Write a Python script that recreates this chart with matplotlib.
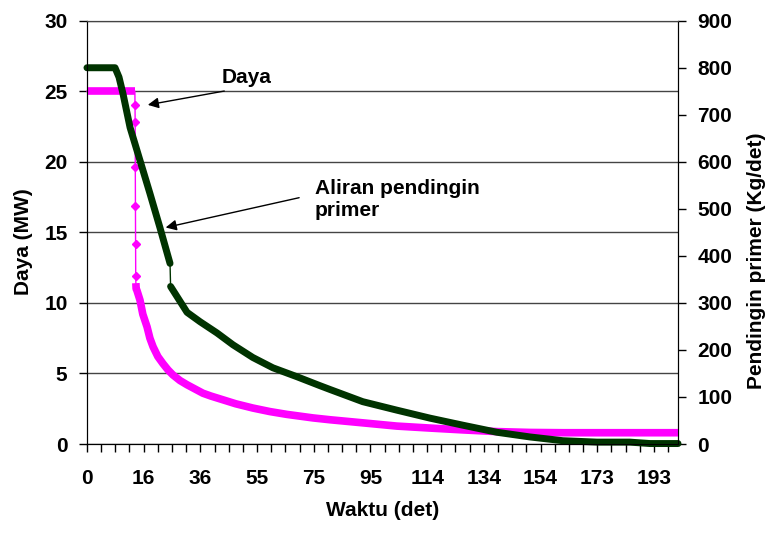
import matplotlib
matplotlib.use("Agg")
import matplotlib.pyplot as plt
from matplotlib.ticker import MultipleLocator

plt.rcParams['font.family'] = ['Liberation Sans', 'DejaVu Sans']
plt.rcParams['font.weight'] = 'bold'
plt.rcParams['axes.labelweight'] = 'bold'
plt.rcParams['font.size'] = 15

# Sumbu waktu: posisi kategori (label tiap 20 kategori, tick tiap 5)
x_ticks = [0, 20, 40, 60, 80, 100, 120, 140, 160, 180, 200]
x_labels = ['0', '16', '36', '55', '75', '95', '114', '134', '154', '173', '193']
x_end = 208.5

# Daya (MW)
daya_x = [0.0, 16.9, 16.95, 17.0, 17.05, 17.1, 17.15, 17.2, 17.25, 17.35,
          17.6, 18.7, 19.7, 21.2, 22.2, 23.3, 25.0, 26.8, 28.6, 30.3, 32.8,
          35.3, 38.1, 40.9, 43.7, 46.9, 52.5, 58.5, 64.5, 70.5, 79.7, 85.7,
          97.3, 109.3, 121.0, 132.6, 144.6, 156.3, 167.9, 179.9, 191.5, 208.5]
daya_y = [25.0, 25.0, 24.0, 22.8, 19.6, 16.9, 14.2, 11.9, 11.4, 11.0,
          10.9, 10.2, 9.2, 8.3, 7.5, 6.9, 6.2, 5.7, 5.25, 4.9, 4.5,
          4.2, 3.9, 3.6, 3.4, 3.2, 2.85, 2.55, 2.3, 2.1, 1.85, 1.72,
          1.5, 1.27, 1.13, 1.0, 0.88, 0.82, 0.8, 0.8, 0.8, 0.8]

# Aliran pendingin primer (kg/det)
aliran_x = [0.0, 9.9, 11.3, 12.7, 15.2, 18.7, 22.2, 25.7, 29.3, 29.5, 35.3,
            39.9, 45.9, 51.5, 58.5, 65.6, 74.1, 82.2, 85.7, 97.3, 109.3,
            121.0, 132.6, 144.6, 156.3, 167.9, 179.9, 191.5, 198.6, 208.5]
aliran_y = [800, 800, 780, 745, 673, 603, 533, 461, 384, 335, 280,
            260, 236, 211, 184, 162, 143, 124, 116, 90, 72,
            55, 40, 25, 15, 7, 4, 4, 1, 1]

pink = '#FF00FF'
green = '#003300'
grid_c = '#444444'

fig = plt.figure(figsize=(7.71, 5.38), dpi=100)
ax = fig.add_axes([0.1128, 0.1747, 0.7666, 0.7868])
ax2 = ax.twinx()

# garis daya: bagian rapat tebal, bagian turun tipis dengan marker
ax.plot(daya_x, daya_y, color=pink, lw=1.0, zorder=3, clip_on=False)
ax.plot(daya_x[:2], daya_y[:2], color=pink, lw=5.5, zorder=3,
        solid_capstyle='butt', clip_on=False)
ax.plot(daya_x[8:], daya_y[8:], color=pink, lw=5.5, zorder=3,
        solid_capstyle='butt', solid_joinstyle='round', clip_on=False)
ax.plot(daya_x[2:8], daya_y[2:8], ls='none', marker='D', ms=4,
        color=pink, zorder=3)

ax2.plot(aliran_x, aliran_y, color=green, lw=1.0, clip_on=False)
ax2.plot(aliran_x[:9], aliran_y[:9], color=green, lw=5.0,
         solid_capstyle='round', solid_joinstyle='round', clip_on=False)
ax2.plot(aliran_x[9:], aliran_y[9:], color=green, lw=5.0,
         solid_capstyle='round', solid_joinstyle='round', clip_on=False)

ax.set_xlim(0, x_end)
ax.set_ylim(0, 30)
ax2.set_ylim(0, 900)
ax.set_xticks(x_ticks)
ax.set_xticklabels(x_labels)
ax.xaxis.set_minor_locator(MultipleLocator(5))
ax.set_yticks(range(0, 31, 5))
ax2.set_yticks(range(0, 901, 100))

ax.yaxis.grid(True, color=grid_c, lw=1.0)
ax.set_axisbelow(True)

ax.tick_params(axis='x', which='both', direction='out', length=6, width=1,
               pad=12)
ax.tick_params(axis='y', direction='out', length=6, width=1, pad=8)
ax2.tick_params(axis='y', direction='out', length=6, width=1, pad=8)

for a in (ax, ax2):
    a.spines['top'].set_color(grid_c)
    for s in ('left', 'right', 'bottom'):
        a.spines[s].set_color('black')
ax2.patch.set_visible(False)

ax.set_xlabel('Waktu (det)', labelpad=9)
ax.set_ylabel('Daya (MW)', va='center')
ax.yaxis.set_label_coords(-0.108, 0.477)
ax2.set_ylabel('Pendingin primer (Kg/det)', va='center')
ax2.yaxis.set_label_coords(1.132, 0.432)

arrow = dict(arrowstyle='-|>', color='black', lw=1.0, mutation_scale=16)
ax.text(56.4, 26.0, 'Daya', ha='center', va='center')
ax.annotate('', xy=(20.5, 24.0), xytext=(49.4, 25.05), arrowprops=arrow)
ax.text(80.4, 18.75, 'Aliran pendingin\nprimer', ha='left', va='top',
        linespacing=1.15)
ax.annotate('', xy=(26.8, 15.3), xytext=(75.8, 17.5), arrowprops=arrow)

fig.savefig('out.png', dpi=100)
